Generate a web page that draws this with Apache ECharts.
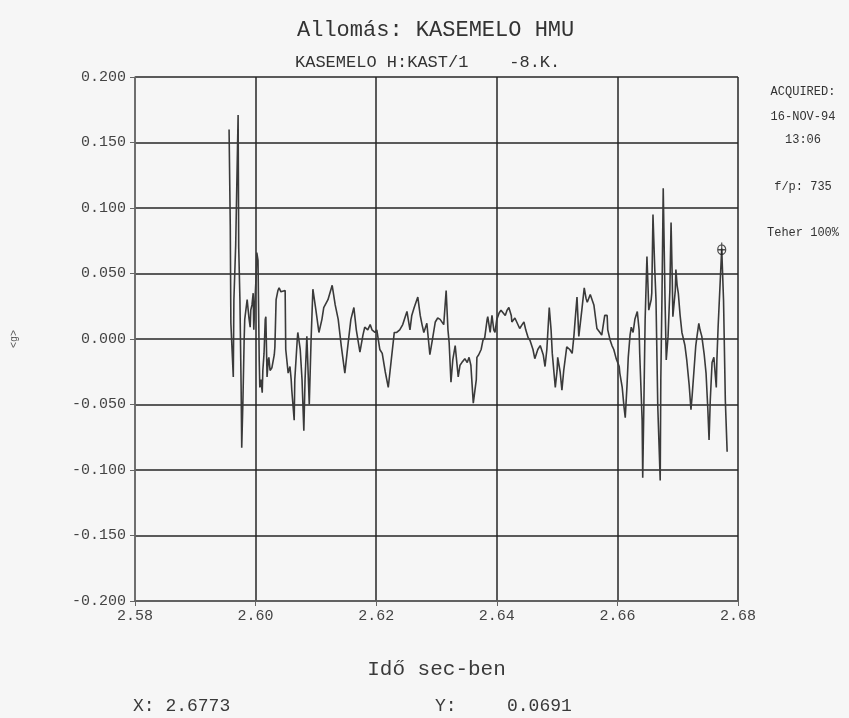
<!DOCTYPE html>
<html>
<head>
<meta charset="utf-8">
<script src="https://cdn.jsdelivr.net/npm/echarts@6/dist/echarts.min.js"></script>
<style>
html,body{margin:0;padding:0;background:#f6f6f6;}
#c{width:849px;height:718px;}
</style>
</head>
<body>
<div id="c"></div>
<script>
// Time (s) of each sample
const times = [
2.5956,2.5958,2.5959,2.5963,2.5964,2.5967,2.5971,2.5972,2.5974,2.5976,
2.5977,2.5979,2.5981,2.5982,2.5986,2.5987,2.5989,2.5991,2.5992,2.5994,
2.5996,2.5997,2.5999,2.6001,2.6002,2.6004,2.6006,2.6007,2.6009,2.6011,
2.6012,2.6014,2.6016,2.6017,2.6019,2.6021,2.6022,2.6024,2.6027,2.6031,
2.6032,2.6034,2.6037,2.6039,2.6042,2.6045,2.6049,2.6050,2.6054,2.6057,
2.6059,2.6060,2.6064,2.6065,2.6069,2.6070,2.6074,2.6077,2.6080,2.6082,
2.6085,2.6089,2.6092,2.6095,2.6097,2.6100,2.6105,2.6110,2.6113,2.6120,
2.6127,2.6132,2.6137,2.6142,2.6148,2.6153,2.6158,2.6163,2.6167,2.6173,
2.6178,2.6181,2.6186,2.6190,2.6193,2.6198,2.6201,2.6206,2.6210,2.6215,
2.6220,2.6225,2.6230,2.6234,2.6239,2.6244,2.6251,2.6256,2.6259,2.6263,
2.6266,2.6269,2.6273,2.6276,2.6279,2.6284,2.6289,2.6293,2.6298,2.6302,
2.6306,2.6312,2.6316,2.6319,2.6321,2.6324,2.6327,2.6331,2.6336,2.6339,
2.6342,2.6347,2.6351,2.6354,2.6357,2.6361,2.6362,2.6366,2.6367,2.6370,
2.6374,2.6377,2.6380,2.6384,2.6385,2.6389,2.6392,2.6395,2.6397,2.6400,
2.6404,2.6407,2.6410,2.6414,2.6417,2.6420,2.6424,2.6425,2.6430,2.6433,
2.6438,2.6442,2.6445,2.6448,2.6452,2.6455,2.6460,2.6463,2.6468,2.6472,
2.6477,2.6480,2.6483,2.6487,2.6490,2.6492,2.6497,2.6500,2.6501,2.6505,
2.6508,2.6511,2.6516,2.6521,2.6525,2.6528,2.6530,2.6533,2.6536,2.6538,
2.6541,2.6545,2.6548,2.6550,2.6555,2.6558,2.6561,2.6566,2.6571,2.6574,
2.6579,2.6583,2.6584,2.6588,2.6591,2.6594,2.6598,2.6603,2.6604,2.6608,
2.6611,2.6613,2.6616,2.6618,2.6621,2.6623,2.6626,2.6629,2.6633,2.6636,
2.6637,2.6641,2.6642,2.6644,2.6646,2.6649,2.6651,2.6652,2.6656,2.6657,
2.6659,2.6662,2.6664,2.6667,2.6671,2.6672,2.6674,2.6676,2.6679,2.6681,
2.6684,2.6687,2.6689,2.6691,2.6692,2.6696,2.6697,2.6699,2.6701,2.6704,
2.6707,2.6712,2.6715,2.6719,2.6722,2.6724,2.6727,2.6730,2.6732,2.6735,
2.6737,2.6740,2.6744,2.6747,2.6750,2.6752,2.6754,2.6757,2.6760,2.6764,
2.6765,2.6767,2.6773,2.6776,2.6779,2.6782
];
// Acceleration <g> of each sample
const accel = [
0.160,0.086,0.012,-0.029,0.030,0.072,0.171,0.070,0.030,-0.037,
-0.083,-0.047,-0.001,0.015,0.030,0.031,0.016,0.009,0.022,0.026,
0.035,0.007,0.030,0.049,0.066,0.060,-0.016,-0.037,-0.031,-0.041,
-0.024,-0.011,0.015,0.017,-0.029,-0.016,-0.014,-0.024,-0.022,-0.012,
-0.006,0.030,0.037,0.039,0.036,0.037,0.037,-0.008,-0.026,-0.021,
-0.031,-0.039,-0.062,-0.031,-0.001,0.005,-0.008,-0.031,-0.070,-0.031,
0.002,-0.050,-0.001,0.038,0.039,0.022,0.005,0.015,0.024,0.030,
0.041,0.026,0.015,-0.005,-0.026,-0.005,0.015,0.024,0.007,-0.010,
0.003,0.009,0.007,0.011,0.007,0.005,0.007,-0.008,-0.011,-0.025,
-0.037,-0.016,0.005,0.005,0.007,0.011,0.021,0.007,0.018,0.024,
0.028,0.032,0.018,0.011,0.005,0.012,-0.012,-0.001,0.013,0.016,
0.015,0.011,0.037,0.007,-0.003,-0.033,-0.016,-0.005,-0.029,-0.020,
-0.018,-0.015,-0.018,-0.014,-0.020,-0.049,-0.049,-0.031,-0.014,-0.012,
-0.008,-0.001,0.001,0.015,0.017,0.005,0.018,0.007,0.005,0.015,
0.020,0.022,0.021,0.018,0.022,0.024,0.018,0.013,0.016,0.015,
0.008,0.011,0.013,0.007,0.001,-0.001,-0.008,-0.015,-0.008,-0.005,
-0.012,-0.021,-0.008,0.024,0.007,-0.011,-0.037,-0.024,-0.014,-0.025,
-0.039,-0.024,-0.006,-0.008,-0.011,0.003,0.015,0.032,0.002,0.001,
0.022,0.039,0.031,0.028,0.034,0.035,0.026,0.008,0.005,0.003,
0.018,0.018,0.007,-0.001,-0.005,-0.008,-0.015,-0.021,-0.026,-0.037,
-0.052,-0.060,-0.035,-0.014,0.003,0.009,0.005,0.015,0.021,0.007,
-0.011,-0.062,-0.106,-0.047,0.015,0.063,0.037,0.022,0.030,0.035,
0.095,0.053,0.030,-0.052,-0.108,-0.031,0.035,0.115,0.030,-0.016,
0.002,0.037,0.089,0.045,0.017,0.037,0.053,0.041,0.035,0.018,
0.005,-0.005,-0.016,-0.035,-0.054,-0.043,-0.024,-0.005,0.002,0.012,
0.007,0.002,-0.012,-0.026,-0.054,-0.077,-0.047,-0.018,-0.014,-0.037,
-0.016,0.009,0.0691,0.030,-0.047,-0.086
];
// Cursor readout
const cursor = [2.6773, 0.0691];
// Axis settings
const xMin = 2.58, xMax = 2.68, xStep = 0.02;
const yMin = -0.2, yMax = 0.2, yStep = 0.05;
// Texts
const titleText = 'Allomás: KASEMELO HMU';
const subText = 'KASEMELO H:KAST/1    -8.K.';
const sideTexts = ['ACQUIRED:', '16-NOV-94', '13:06', 'f/p: 735', 'Teher 100%'];
const xName = 'Idő sec-ben';
const yName = '<g>';

const mono = '"Liberation Mono", "DejaVu Sans Mono", monospace';
const txtColor = '#3a3a3a';

const lineData = times.map((t, i) => [t, accel[i]]);
const chart = echarts.init(document.getElementById('c'), null, {renderer: 'canvas'});

const sideY = [92, 117, 140, 187, 233];
const graphics = [
  {type: 'text', left: 297, top: 19, style: {text: titleText, font: '22px ' + mono, fill: '#333'}},
  {type: 'text', left: 295, top: 54, style: {text: subText, font: '17px ' + mono, fill: '#333'}},
  {type: 'text', left: 133, top: 697, style: {text: 'X: ' + cursor[0].toFixed(4), font: '18px ' + mono, fill: txtColor}},
  {type: 'text', left: 435, top: 697, style: {text: 'Y:', font: '18px ' + mono, fill: txtColor}},
  {type: 'text', left: 507, top: 697, style: {text: cursor[1].toFixed(4), font: '18px ' + mono, fill: txtColor}}
];
sideTexts.forEach((s, i) => {
  graphics.push({type: 'text', x: 803, y: sideY[i], style: {text: s, font: '12px ' + mono, fill: '#333', align: 'center', verticalAlign: 'middle'}});
});

chart.setOption({
  backgroundColor: '#f6f6f6',
  animation: false,
  grid: {left: 135, right: 111, top: 77, bottom: 117, containLabel: false},
  xAxis: {
    type: 'value', min: xMin, max: xMax, interval: xStep,
    name: xName, nameLocation: 'middle', nameGap: 58,
    nameTextStyle: {fontFamily: mono, fontSize: 21, color: txtColor},
    axisLine: {show: true, onZero: false, lineStyle: {color: '#666', width: 1.5}},
    axisTick: {show: true, length: 5, lineStyle: {color: '#666'}},
    axisLabel: {margin: 8, fontFamily: mono, fontSize: 15, color: '#444', formatter: v => v.toFixed(2)},
    splitLine: {show: true, lineStyle: {color: '#262626', width: 1.5}}
  },
  yAxis: {
    type: 'value', min: yMin, max: yMax, interval: yStep,
    name: yName, nameLocation: 'middle', nameGap: 116,
    nameTextStyle: {fontFamily: mono, fontSize: 10, color: '#555'},
    axisLine: {show: true, onZero: false, lineStyle: {color: '#777', width: 1.5}},
    axisTick: {show: true, length: 5, lineStyle: {color: '#666'}},
    axisLabel: {margin: 9, fontFamily: mono, fontSize: 15, color: '#444', formatter: v => v.toFixed(3)},
    splitLine: {show: true, lineStyle: {color: '#262626', width: 1.5}}
  },
  series: [
    {
      type: 'line', data: lineData, showSymbol: false, symbol: 'none',
      lineStyle: {color: '#3a3a3a', width: 1.6}, z: 3
    },
    {
      type: 'scatter', data: [cursor],
      symbol: 'path://M5,2A4,4,0,1,1,4.99,2ZM5,0L5,10M1,6L9,6',
      symbolSize: [10, 12], symbolKeepAspect: true,
      itemStyle: {color: 'rgba(0,0,0,0)', borderColor: '#222', borderWidth: 1.3}, z: 4
    }
  ],
  graphic: graphics
});
</script>
</body>
</html>
